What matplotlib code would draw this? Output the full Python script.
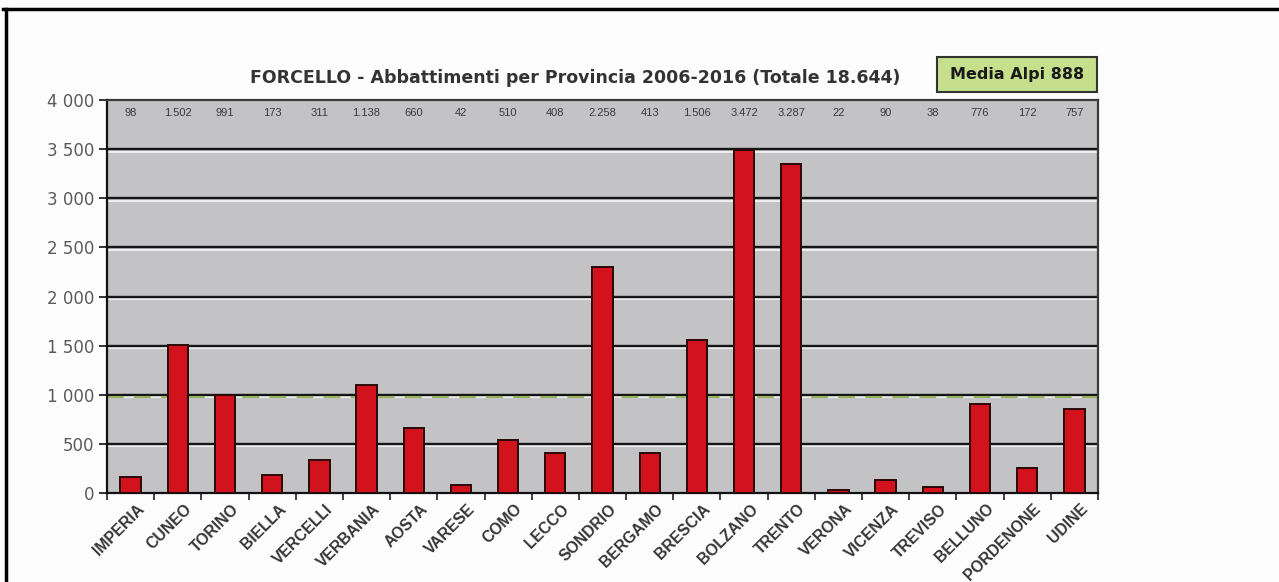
import matplotlib
matplotlib.use("Agg")
import matplotlib.pyplot as plt
from matplotlib.ticker import FuncFormatter, MultipleLocator, FixedLocator
from matplotlib.lines import Line2D
from matplotlib.patches import Rectangle
import matplotlib.transforms as mtransforms
import numpy as np

# ---------------- data ----------------
provinces = ["IMPERIA", "CUNEO", "TORINO", "BIELLA", "VERCELLI", "VERBANIA",
             "AOSTA", "VARESE", "COMO", "LECCO", "SONDRIO", "BERGAMO",
             "BRESCIA", "BOLZANO", "TRENTO", "VERONA", "VICENZA", "TREVISO",
             "BELLUNO", "PORDENONE", "UDINE"]
bar_heights = [158, 1508, 997, 186, 334, 1100, 665, 83, 538, 411, 2297, 405,
               1556, 3490, 3346, 28, 133, 63, 909, 255, 857]
count_labels = ["98", "1.502", "991", "173", "311", "1.138", "660", "42", "510",
                "408", "2.258", "413", "1.506", "3.472", "3.287", "22", "90",
                "38", "776", "172", "757"]
media_line = 975
title = "FORCELLO - Abbattimenti per Provincia 2006-2016 (Totale 18.644)"
media_text = "Media Alpi 888"

# ---------------- figure ----------------
plt.rcParams['font.family'] = ['Liberation Sans', 'DejaVu Sans']
fig = plt.figure(figsize=(12.79, 5.82), dpi=100, facecolor='#fdfdfd')
W, H = 1279, 582
ax = fig.add_axes([107 / W, 1 - 493 / H, (1098 - 107) / W, (493 - 100) / H])
ax.set_facecolor('#c3c3c5')

n = len(provinces)
x = np.arange(n)
ax.set_xlim(-0.5, n - 0.5)
ax.set_ylim(0, 4000)

# gridlines: black with white highlight just below
white_off = mtransforms.offset_copy(ax.transData, fig=fig, x=0, y=-2.5, units='dots')
for v in range(500, 4000, 500):
    ax.plot([-0.5, n - 0.5], [v, v], color='#f2f2f2', lw=1.3, zorder=1,
            transform=white_off)
    ax.axhline(v, color='#151515', lw=1.7, zorder=1.5)

# mean line
ax.axhline(media_line, color='#93b25a', lw=1.5, ls=(0, (8, 5)), zorder=1.8)

ax.bar(x, bar_heights, width=0.43, color='#d2121d', edgecolor='#2a0808',
       lw=1.4, zorder=3)

# counts on top row
for xi, lab in zip(x, count_labels):
    ax.text(xi, 3865, lab, ha='center', va='center', fontsize=8,
            color='#3a3a3a', zorder=4)

# axes styling
ax.yaxis.set_major_locator(MultipleLocator(500))
ax.yaxis.set_major_formatter(FuncFormatter(
    lambda v, p: f"{int(v):,}".replace(",", " ")))
ax.tick_params(axis='y', direction='out', length=6, width=1.3, color='#222',
               labelsize=12, labelcolor='#5a5a5a', pad=3)
for lab in ax.get_yticklabels():
    lab.set_family(['DejaVu Sans'])

ax.set_xticks(x)
ax.set_xticklabels(provinces, rotation=45, ha='right', rotation_mode='anchor',
                   fontsize=11.3, fontweight='bold', color='#363636')
ax.tick_params(axis='x', which='major', length=0, pad=6)
ax.xaxis.set_minor_locator(FixedLocator(np.arange(-0.5, n, 1.0)))
ax.tick_params(axis='x', which='minor', direction='out', length=5, width=1.3,
               color='#333')
for lab in ax.get_xticklabels():
    offset = mtransforms.ScaledTranslation(6 / 100, 0, fig.dpi_scale_trans)
    lab.set_transform(lab.get_transform() + offset)

for side in ['left', 'bottom']:
    ax.spines[side].set_color('#111')
    ax.spines[side].set_linewidth(1.6)
for side in ['top', 'right']:
    ax.spines[side].set_color('#3a3a3a')
    ax.spines[side].set_linewidth(1.6)

# title and media box
fig.text(575 / W, 1 - 78 / H, title, ha='center', va='center', fontsize=12.5,
         fontweight='bold', color='#333333', family=['DejaVu Sans'])
fig.add_artist(Rectangle((937 / W, 1 - 92 / H), 160 / W, 35 / H,
                         transform=fig.transFigure, facecolor='#c5df8c',
                         edgecolor='#333333', lw=1.5))
fig.text(1017 / W, 1 - 75 / H, media_text, ha='center', va='center',
         fontsize=11.5, fontweight='bold', color='#1a1a1a',
         family=['DejaVu Sans'])

# scan frame lines
fig.add_artist(Line2D([3 / W, 1.0], [1 - 9 / H, 1 - 9 / H], color='black',
                      lw=2.5, transform=fig.transFigure))
fig.add_artist(Line2D([6 / W, 6 / W], [0, 1 - 9 / H], color='black',
                      lw=2.5, transform=fig.transFigure))

fig.savefig("out.png", dpi=100, facecolor=fig.get_facecolor())
